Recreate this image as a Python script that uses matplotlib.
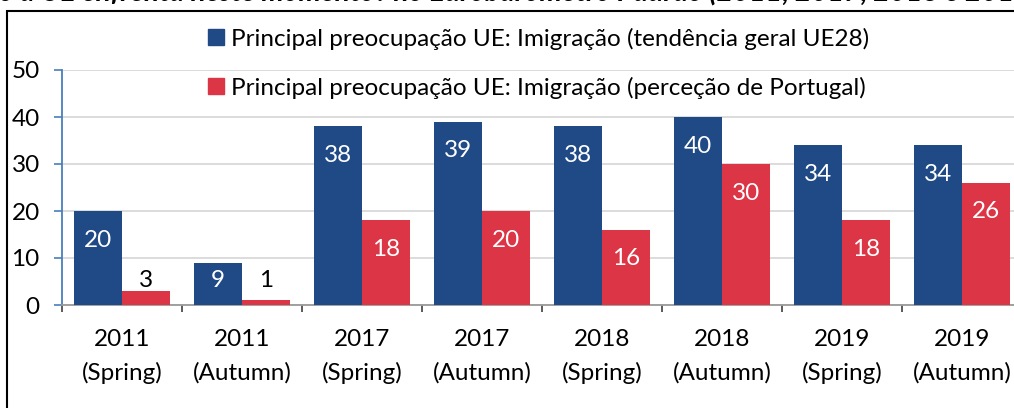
import matplotlib
matplotlib.use("Agg")
import matplotlib.pyplot as plt
from matplotlib.patches import Rectangle, Patch

plt.rcParams["font.family"] = ["Lato", "DejaVu Sans"]

# survey waves
years = ["2011", "2011", "2017", "2017", "2018", "2018", "2019", "2019"]
seasons = ["Spring", "Autumn", "Spring", "Autumn", "Spring", "Autumn", "Spring", "Autumn"]
eu28 = [20, 9, 38, 39, 38, 40, 34, 34]
portugal = [3, 1, 18, 20, 16, 30, 18, 26]
series_labels = [
    "Principal preocupação UE: Imigração (tendência geral UE28)",
    "Principal preocupação UE: Imigração (perceção de Portugal)",
]
yticks = [0, 10, 20, 30, 40, 50]
title = "o a UE enfrenta neste momento? no Eurobarómetro Padrão (2011, 2017, 2018 e 2019)"

BLUE = "#1f4a85"
RED = "#dc3546"
AXBLUE = "#4a7ebb"
FS = 17.5

W, H = 1014, 408
fig = plt.figure(figsize=(W / 100, H / 100), dpi=100)
# axes runs a bit past the right edge, like the cropped original
ax = fig.add_axes([62 / W, 103 / H, 960 / W, 235 / H])

x = list(range(len(years)))
bw = 0.4
ax.bar([i - bw / 2 for i in x], eu28, bw, color=BLUE, zorder=3)
ax.bar([i + bw / 2 for i in x], portugal, bw, color=RED, zorder=3)

# data labels: inside end, clamped near the base; dark when it no longer fits
for off, vals in ((-bw / 2, eu28), (bw / 2, portugal)):
    for i, v in zip(x, vals):
        ly = max(v - 6.2, 5.3)
        col = "white" if v > ly + 2 else "black"
        ax.text(i + off, ly, str(v), ha="center", va="center",
                fontsize=FS, color=col, zorder=4)

ax.set_ylim(0, 50)
ax.set_xlim(-0.5, len(x) - 0.5)
ax.set_yticks(yticks)
ax.set_yticklabels([str(t) for t in yticks], fontsize=FS)
ax.yaxis.grid(True, color="#d9d9d9", lw=1.3, zorder=0)
ax.tick_params(axis="y", direction="out", length=6, width=1.2, color=AXBLUE,
               pad=10)

ax.set_xticks([i - 0.5 for i in range(len(x) + 1)])
ax.set_xticklabels([])
ax.tick_params(axis="x", which="major", direction="out", length=5, width=1.2,
               color="#404040")
ax.set_xticks(x, minor=True)
ax.set_xticklabels([f"{y}\n({s})" for y, s in zip(years, seasons)], minor=True,
                   fontsize=FS, linespacing=1.7)
ax.tick_params(axis="x", which="minor", length=0, pad=17)

for s in ("top", "right"):
    ax.spines[s].set_visible(False)
ax.spines["left"].set_color(AXBLUE)
ax.spines["left"].set_linewidth(1.3)
ax.spines["bottom"].set_color("#9a9a9a")
ax.spines["bottom"].set_linewidth(1.3)

handles = [Patch(color=BLUE), Patch(color=RED)]
fig.legend(handles, series_labels, loc="upper left",
           bbox_to_anchor=(198 / W, 1 - 18 / H), frameon=False, fontsize=FS,
           handlelength=0.65, handleheight=0.65, handletextpad=0.3,
           labelspacing=1.1, borderaxespad=0)

# outer frame of the original figure box
fig.patches.append(Rectangle((7 / W, -0.2), 2, 1.2 - 11 / H,
                             transform=fig.transFigure, fill=False,
                             ec="black", lw=1.5))

# title, mostly cropped off at the top; size it so "...e 201" reaches the edge
t = fig.text(-1 / W, 1 - 1 / H, title[:-2], fontsize=20, fontweight="bold",
             fontstyle="italic", va="baseline")
fig.canvas.draw()
w = t.get_window_extent().width
t.set_fontsize(20 * (W + 1) / w)
t.set_text(title)

fig.savefig("out.png", dpi=100)
